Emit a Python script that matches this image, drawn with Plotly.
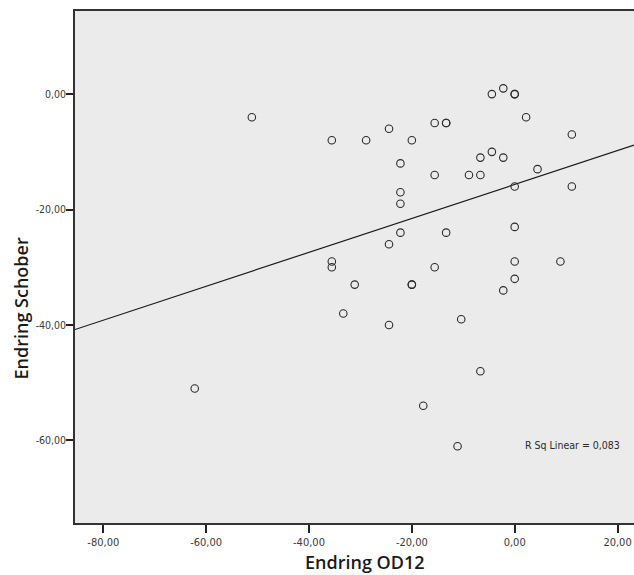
import numpy as np
import plotly.graph_objects as go

# Data (Endring OD12 vs Endring Schober)
od12 = [-62.22, -51.11, -35.56, -35.56, -35.56, -33.33, -31.11, -28.89,
        -24.44, -24.44, -24.44, -22.22, -22.22, -22.22, -22.22,
        -20.00, -20.00, -20.00, -17.78, -15.56, -15.56, -15.56,
        -13.33, -13.33, -13.33, -11.11, -10.40, -8.89,
        -6.67, -6.67, -6.67, -4.44, -4.44, -2.22, -2.22, -2.22,
        0.00, 0.00, 0.00, 0.00, 0.00, 0.00, 2.22, 4.44, 8.89, 11.11, 11.11]
schober = [-51, -4, -8, -29, -30, -38, -33, -8,
           -6, -26, -40, -12, -17, -19, -24,
           -8, -33, -33, -54, -5, -14, -30,
           -5, -5, -24, -61, -39, -14,
           -11, -14, -48, 0, -10, 1, -11, -34,
           0, 0, -16, -23, -29, -32, -4, -13, -29, -7, -16]

# Fit line as drawn in the reference
fit_slope = 0.294
fit_intercept = -15.65

x_tick_vals = [-80, -60, -40, -20, 0, 20]
x_tick_text = ["-80,00", "-60,00", "-40,00", "-20,00", "0,00", "20,00"]
y_tick_vals = [0, -20, -40, -60]
y_tick_text = ["0,00", "-20,00", "-40,00", "-60,00"]

x_range = [-85.5, 23.2]
y_range = [-74.3, 14.4]

x_title = "Endring OD12"
y_title = "Endring Schober"
fit_label = "R Sq Linear = 0,083"

fit_x = np.array(x_range)
fit_y = fit_slope * fit_x + fit_intercept

fig = go.Figure()
fig.add_trace(go.Scatter(
    x=fit_x, y=fit_y, mode="lines",
    line=dict(color="#1a1a1a", width=1.2),
    hoverinfo="skip", showlegend=False))
fig.add_trace(go.Scatter(
    x=od12, y=schober, mode="markers",
    marker=dict(symbol="circle-open", size=7.5, color="#2a2a2a",
                line=dict(width=1.1, color="#2a2a2a")),
    showlegend=False))

narrow = "Liberation Sans Narrow, Arial Narrow, DejaVu Sans Condensed, sans-serif"
x_tick_font = dict(family=narrow, size=11, color="#3a3a3a")
y_tick_font = dict(family=narrow, size=10.5, color="#3a3a3a")
title_font = dict(family="Open Sans, sans-serif", size=18, color="#1a1a1a", weight=600)

fig.update_layout(
    width=634, height=575,
    margin=dict(l=75, r=0, t=11, b=52),
    paper_bgcolor="white",
    plot_bgcolor="#EAEBEA",
    xaxis=dict(range=x_range, tickvals=x_tick_vals, ticktext=x_tick_text,
               showgrid=False, zeroline=False,
               showline=True, linecolor="#333333", linewidth=1.6, mirror=True,
               ticks="outside", ticklen=8, tickwidth=1.5, tickcolor="#222222",
               tickfont=x_tick_font),
    yaxis=dict(range=y_range, tickvals=y_tick_vals, ticktext=y_tick_text,
               showgrid=False, zeroline=False,
               showline=True, linecolor="#333333", linewidth=1.6, mirror=False,
               ticks="outside", ticklen=7, tickwidth=1.5, tickcolor="#222222",
               ticklabelstandoff=-2,
               tickfont=y_tick_font),
    annotations=[
        dict(text=x_title, xref="paper", yref="paper", x=0.5185, y=-0.077,
             xanchor="center", yanchor="middle", showarrow=False, font=title_font),
        dict(text=y_title, xref="paper", yref="paper", x=-0.0963, y=0.4193,
             xanchor="center", yanchor="middle", textangle=-90, showarrow=False,
             font=title_font),
        dict(text=fit_label, xref="paper", yref="paper", x=0.8908, y=0.1518,
             xanchor="center", yanchor="middle", showarrow=False,
             font=dict(family=narrow, size=10.5, color="#2a2a2a")),
    ],
)

fig.write_html(
    "out.html",
    config={"displayModeBar": False},
    post_script="document.body.style.margin='0';document.body.style.overflow='hidden';",
)
